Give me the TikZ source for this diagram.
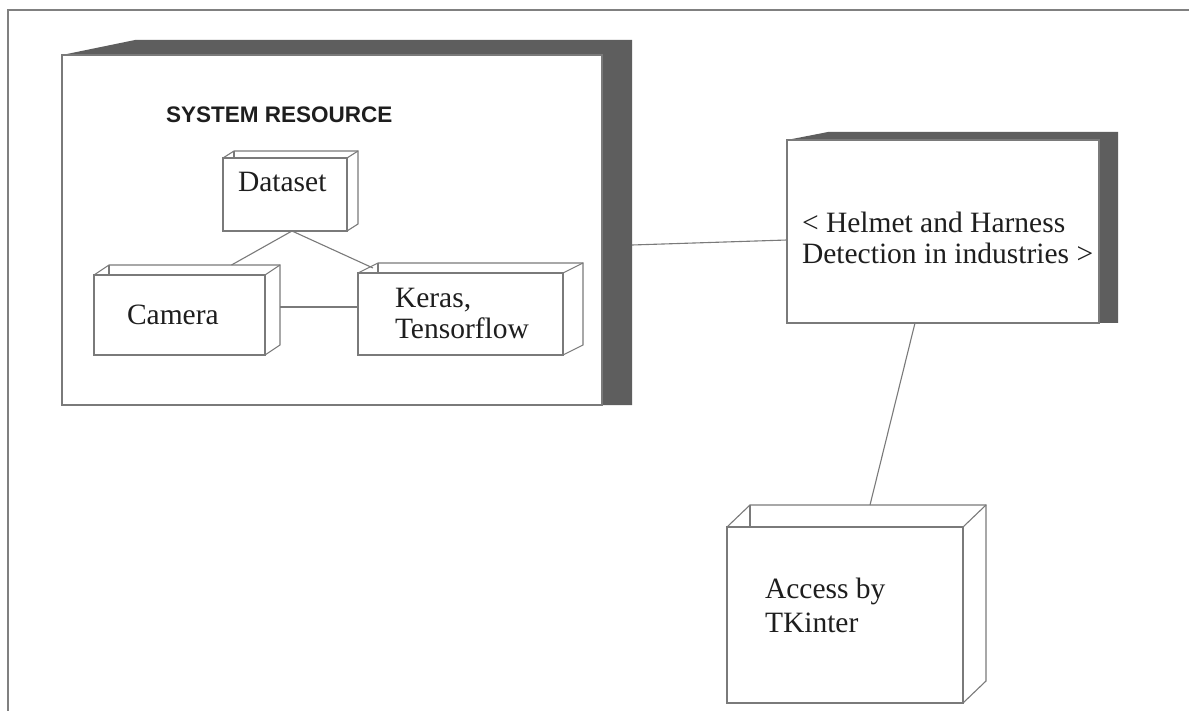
\documentclass[tikz,border=0pt]{standalone}
\usepackage{fontspec}
\setmainfont{Liberation Serif}
\newfontfamily\arialfont{Liberation Sans}
\usetikzlibrary{calc}
\definecolor{edgegray}{HTML}{7A7A7A}
\definecolor{darkface}{HTML}{5E5E5E}
\definecolor{textcol}{HTML}{1E1E1E}
\newcommand\nodedepth[3]{%
  \draw[edge] (#1.north west) -- ++(#2,-#3) -- ($(#1.north east)+(#2,-#3)$) -- ($(#1.south east)+(#2,-#3)$) -- (#1.south east);
  \draw[edge] (#1.north east) -- ++(#2,-#3);
  \draw[edge] ($(#1.north west)+(#2,-#3)$) -- ++(0,#3);
}
\begin{document}
\begin{tikzpicture}[x=1pt,y=-1pt,
  edge/.style={draw=edgegray,line width=1.1pt},
  box/.style={draw=edgegray,line width=1.1pt,fill=white,rectangle,inner sep=0pt,outer sep=0pt},
  lbl/.style={inner sep=0pt,outer sep=0pt,text=textcol,font=\fontsize{29.5}{31}\selectfont,align=left,anchor=base west},
  conn/.style={draw=edgegray,line width=1.1pt}]
\useasboundingbox (0,0) rectangle (1189,711);
\fill[white] (0,0) rectangle (1189,711);
% outer frame
\draw[draw=gray,line width=2pt] (8,711) -- (8,10) -- (1189,10);

% system resource node
\node[box,minimum width=540pt,minimum height=350pt] (sys) at (332,230) {};
\fill[darkface] (sys.north west) -- ++(73,-15) -- ($(sys.north east)+(30,-15)$) -- ($(sys.south east)+(30,0)$) -- (sys.south east) -- (sys.north east) -- cycle;
\draw[edge] (sys.north west) rectangle (sys.south east);
\node[inner sep=0pt,anchor=base west,text=textcol,font=\arialfont\bfseries\fontsize{22.5}{25}\selectfont] (title) at (166,123) {SYSTEM RESOURCE};

% helmet node
\node[box,minimum width=312pt,minimum height=183pt] (helmet) at (943,231.5) {};
\fill[darkface] (helmet.north west) -- ++(41,-8) -- ($(helmet.north east)+(19,-8)$) -- ($(helmet.south east)+(19,0)$) -- (helmet.south east) -- (helmet.north east) -- cycle;
\draw[edge] (helmet.north west) rectangle (helmet.south east);
\node[lbl] (helmettext) at (802,264) {< Helmet and Harness\\Detection in industries >};

% inner nodes
\node[box,minimum width=124pt,minimum height=73pt] (dataset) at (285,194.5) {};
\nodedepth{dataset}{11}{7}
\node[lbl] (datasettext) at (238,192) {Dataset};

\node[box,minimum width=171pt,minimum height=80pt] (camera) at (179.5,315) {};
\nodedepth{camera}{15}{10}
\node[lbl] (cameratext) at (127,325) {Camera};

\node[box,minimum width=205pt,minimum height=82pt] (keras) at (460.5,314) {};
\nodedepth{keras}{20}{10}
\node[lbl] (kerastext) at (395,338) {Keras,\\Tensorflow};

% access node
\node[box,minimum width=236pt,minimum height=176pt] (access) at (845,615) {};
\nodedepth{access}{23}{22}
\node[lbl,font=\fontsize{29.5}{34}\selectfont] (accesstext) at (765,632) {Access by\\TKinter};

% connectors
\draw[conn] ($(dataset.south)+(7,0)$) -- ($(camera.north)+(52,-10)$);
\draw[conn] ($(dataset.south)+(7,0)$) -- ($(keras.north west)+(15,-5)$);
\draw[conn] ($(camera.east)+(15,-8)$) -- ($(keras.west)+(0,-7)$);
\draw[conn] ($(sys.east)+(30,15)$) -- ($(helmet.west)+(0,8.5)$);
\draw[conn] ($(helmet.south)+(-28,0)$) -- ($(access.north)+(25,-22)$);
\end{tikzpicture}
\end{document}
